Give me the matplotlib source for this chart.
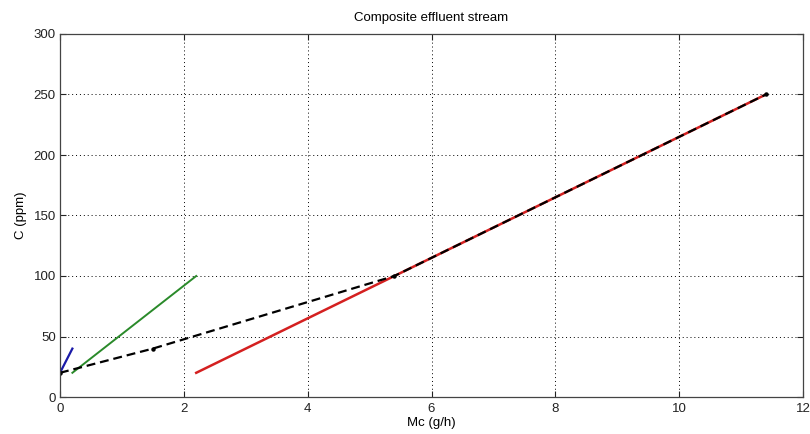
import matplotlib
matplotlib.use("Agg")
import matplotlib.pyplot as plt

# Stream data: mass load Mc (g/h) vs concentration C (ppm)
stream1_mc = [0.0, 0.2]
stream1_c = [20, 40]
stream2_mc = [0.2, 2.2]
stream2_c = [20, 100]
stream3_mc = [2.2, 11.4]
stream3_c = [20, 250]
composite_mc = [0.0, 1.5, 5.4, 11.4]
composite_c = [20, 40, 100, 250]

x_ticks = [0, 2, 4, 6, 8, 10, 12]
y_ticks = [0, 50, 100, 150, 200, 250, 300]

plt.rcParams["font.family"] = ["Liberation Sans", "DejaVu Sans"]
plt.rcParams["font.size"] = 9

fig = plt.figure(figsize=(8.1, 4.34), dpi=100)
ax = fig.add_axes([60 / 810, 37 / 434, 743 / 810, 363 / 434])

ax.plot(stream1_mc, stream1_c, color="#1a1aa8", lw=1.6)
ax.plot(stream2_mc, stream2_c, color="#2a8a2a", lw=1.4)
ax.plot(stream3_mc, stream3_c, color="#d42020", lw=1.8)
ax.plot(composite_mc, composite_c, color="black", lw=1.6, ls=(0, (4, 2.2)),
        marker="o", ms=2.2)

ax.set_xlim(0, 12)
ax.set_ylim(0, 300)
ax.set_xticks(x_ticks)
ax.set_yticks(y_ticks)
ax.grid(True, color="black", ls=(0, (1, 3)), lw=0.7)
ax.tick_params(direction="in", top=True, right=True, length=4, width=0.8,
               labelsize=9.5, colors="#222222", pad=3)
ax.tick_params(axis="x", pad=4)
for s in ax.spines.values():
    s.set_color("#444444")
    s.set_linewidth(0.9)

ax.set_title("Composite effluent stream", fontsize=9.5, pad=9)
ax.set_xlabel("Mc (g/h)", fontsize=9.5, labelpad=2)
ax.set_ylabel("C (ppm)", fontsize=9.5, labelpad=5)

fig.savefig("out.png", dpi=100)
